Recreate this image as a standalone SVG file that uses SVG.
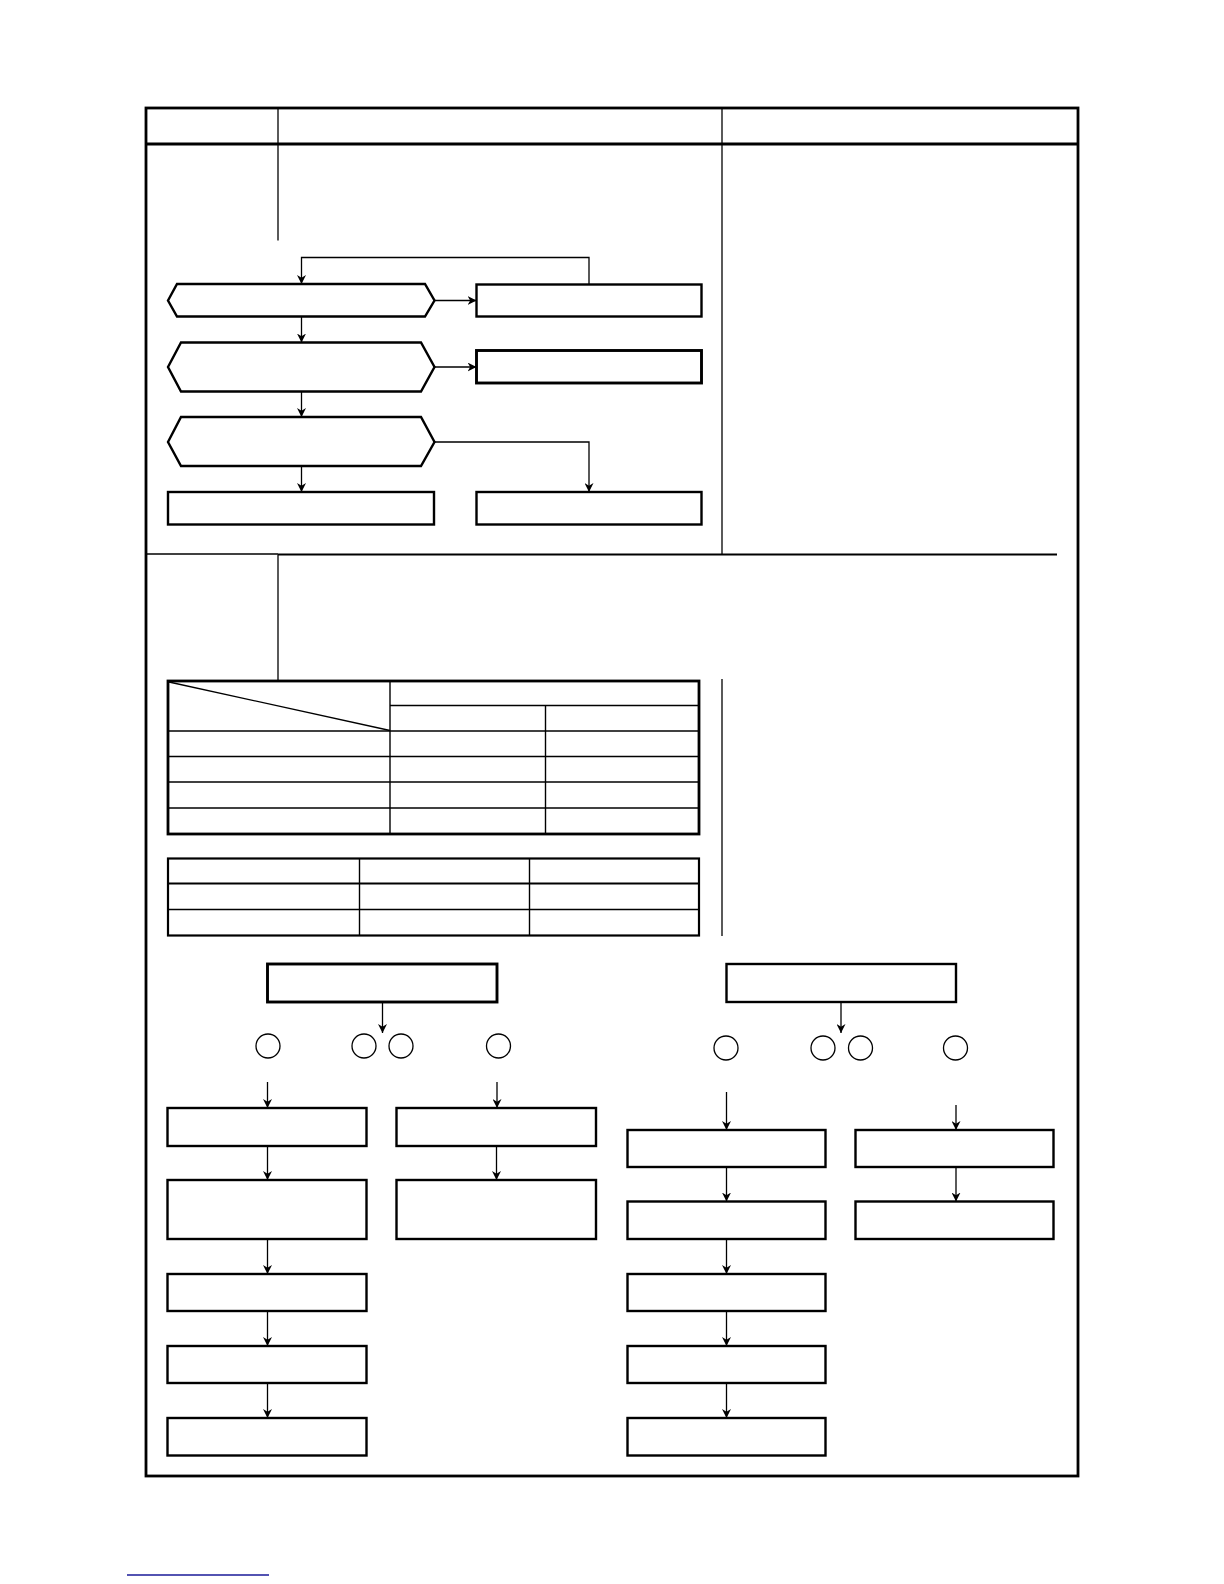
<svg xmlns="http://www.w3.org/2000/svg" width="1224" height="1584" viewBox="0 0 1224 1584">
<style>
.frame{fill:none;stroke:#000;stroke-width:2.8}
.thin{fill:none;stroke:#000;stroke-width:1.3}
.mid{fill:none;stroke:#000;stroke-width:2.2}
.node{fill:#fff;stroke:#000;stroke-width:2.4}
.circ{fill:#fff;stroke:#000;stroke-width:1.3}
.conn{fill:none;stroke:#000;stroke-width:1.3;marker-end:url(#ah)}
.line{fill:none;stroke:#000;stroke-width:1.4}
</style>
<defs>
<marker id="ah" viewBox="0 0 10 10" refX="10" refY="5" markerWidth="9" markerHeight="9" markerUnits="userSpaceOnUse" orient="auto">
<path d="M0,0 L10,5 L0,10 L3,5 Z" fill="#000"/>
</marker>
</defs>
<rect width="1224" height="1584" fill="#fff"/>

<g id="frame">
<rect class="frame" x="146" y="108" width="932" height="1368"/>
<line class="frame" x1="146" y1="144" x2="1078" y2="144"/>
<line class="thin" x1="278" y1="108" x2="278" y2="240.5"/>
<line class="thin" x1="722" y1="108" x2="722" y2="554.5"/>
<line class="thin" x1="146" y1="554" x2="278" y2="554"/>
<line class="mid" x1="278" y1="554.5" x2="1057" y2="554.5"/>
<line class="thin" x1="278" y1="554.5" x2="278" y2="680"/>
<line class="thin" x1="722" y1="679" x2="722" y2="936"/>
</g>

<g id="table1">
<rect class="frame" x="168" y="681" width="531" height="153"/>
<line class="line" x1="390" y1="681" x2="390" y2="834"/>
<line class="line" x1="545.5" y1="705.5" x2="545.5" y2="834"/>
<line class="line" x1="390" y1="705.5" x2="699" y2="705.5"/>
<line class="line" x1="168" y1="731" x2="699" y2="731"/>
<line class="line" x1="168" y1="756.5" x2="699" y2="756.5"/>
<line class="line" x1="168" y1="782" x2="699" y2="782"/>
<line class="line" x1="168" y1="808" x2="699" y2="808"/>
<line class="line" x1="169" y1="682" x2="390" y2="730.5"/>
</g>

<g id="table2">
<rect class="mid" x="168" y="858.5" width="531" height="77"/>
<line class="line" x1="359.5" y1="858.5" x2="359.5" y2="935.5"/>
<line class="line" x1="529.5" y1="858.5" x2="529.5" y2="935.5"/>
<line class="mid" x1="168" y1="883.5" x2="699" y2="883.5"/>
<line class="line" x1="168" y1="909.5" x2="699" y2="909.5"/>
</g>

<g id="hex1"><polygon class="node" points="168,300.5 177,284 425,284 434.5,300.5 425,316.5 177,316.5"/></g>
<g id="hex2"><polygon class="node" points="168,367 181,342.5 421,342.5 434.5,367 421,391.5 181,391.5"/></g>
<g id="hex3"><polygon class="node" points="168,442 181,417 421,417 434.5,442 421,466 181,466"/></g>
<g id="boxA"><rect class="node" x="476.5" y="284.5" width="225" height="32"/></g>
<g id="boxB"><rect class="node" x="476.5" y="350.5" width="225" height="32.5" style="stroke-width:2.9"/></g>
<g id="boxC"><rect class="node" x="168" y="492" width="266" height="32.5"/></g>
<g id="boxD"><rect class="node" x="476.5" y="492" width="225" height="32.5"/></g>

<g id="boxE"><rect class="node" x="267.5" y="964" width="229.5" height="38" style="stroke-width:2.9"/></g>
<g id="circlesL">
<circle class="circ" cx="268" cy="1046" r="12"/>
<circle class="circ" cx="364" cy="1046" r="12"/>
<circle class="circ" cx="401" cy="1046" r="12"/>
<circle class="circ" cx="498.5" cy="1046" r="12"/>
</g>
<g id="L1"><rect class="node" x="167.5" y="1108" width="199" height="38"/></g>
<g id="L2"><rect class="node" x="167.5" y="1180" width="199" height="59"/></g>
<g id="L3"><rect class="node" x="167.5" y="1274" width="199" height="37"/></g>
<g id="L4"><rect class="node" x="167.5" y="1346" width="199" height="37"/></g>
<g id="L5"><rect class="node" x="167.5" y="1418" width="199" height="37.5"/></g>
<g id="R1"><rect class="node" x="396.5" y="1108" width="199.5" height="38"/></g>
<g id="R2"><rect class="node" x="396.5" y="1180" width="199.5" height="59"/></g>

<g id="boxF"><rect class="node" x="726.5" y="964" width="229.5" height="38"/></g>
<g id="circlesR">
<circle class="circ" cx="726" cy="1048" r="12"/>
<circle class="circ" cx="823" cy="1048" r="12"/>
<circle class="circ" cx="860.5" cy="1048" r="12"/>
<circle class="circ" cx="955.5" cy="1048" r="12"/>
</g>
<g id="M1"><rect class="node" x="627.5" y="1130" width="198" height="37"/></g>
<g id="M2"><rect class="node" x="627.5" y="1201.5" width="198" height="37.5"/></g>
<g id="M3"><rect class="node" x="627.5" y="1274" width="198" height="37"/></g>
<g id="M4"><rect class="node" x="627.5" y="1346" width="198" height="37"/></g>
<g id="M5"><rect class="node" x="627.5" y="1418" width="198" height="37.5"/></g>
<g id="N1"><rect class="node" x="855.5" y="1130" width="198" height="37"/></g>
<g id="N2"><rect class="node" x="855.5" y="1201.5" width="198" height="37.5"/></g>

<g id="connectors">
<path class="conn" d="M589,284.5 V257.5 H301.5 V284"/>
<path class="conn" d="M434.5,300.5 H476.5"/>
<path class="conn" d="M301.5,316.5 V342.5"/>
<path class="conn" d="M434.5,367 H476.5"/>
<path class="conn" d="M301.5,391.5 V417"/>
<path class="conn" d="M434.5,442 H589 V492"/>
<path class="conn" d="M301.5,466 V492"/>

<path class="conn" d="M382.5,1002 V1033"/>
<path class="conn" d="M267.5,1082 V1108"/>
<path class="conn" d="M497,1082 V1108"/>
<path class="conn" d="M267.5,1146 V1180"/>
<path class="conn" d="M267.5,1239 V1274"/>
<path class="conn" d="M267.5,1311 V1346"/>
<path class="conn" d="M267.5,1383 V1418"/>
<path class="conn" d="M496.5,1146 V1180"/>

<path class="conn" d="M841,1002 V1033"/>
<path class="conn" d="M726.5,1092 V1130"/>
<path class="conn" d="M956,1105 V1130"/>
<path class="conn" d="M726.5,1167 V1201.5"/>
<path class="conn" d="M726.5,1239 V1274"/>
<path class="conn" d="M726.5,1311 V1346"/>
<path class="conn" d="M726.5,1383 V1418"/>
<path class="conn" d="M956,1167 V1201.5"/>
</g>

<line x1="127" y1="1575" x2="269" y2="1575" stroke="#1a1a99" stroke-width="1.3"/>
</svg>
